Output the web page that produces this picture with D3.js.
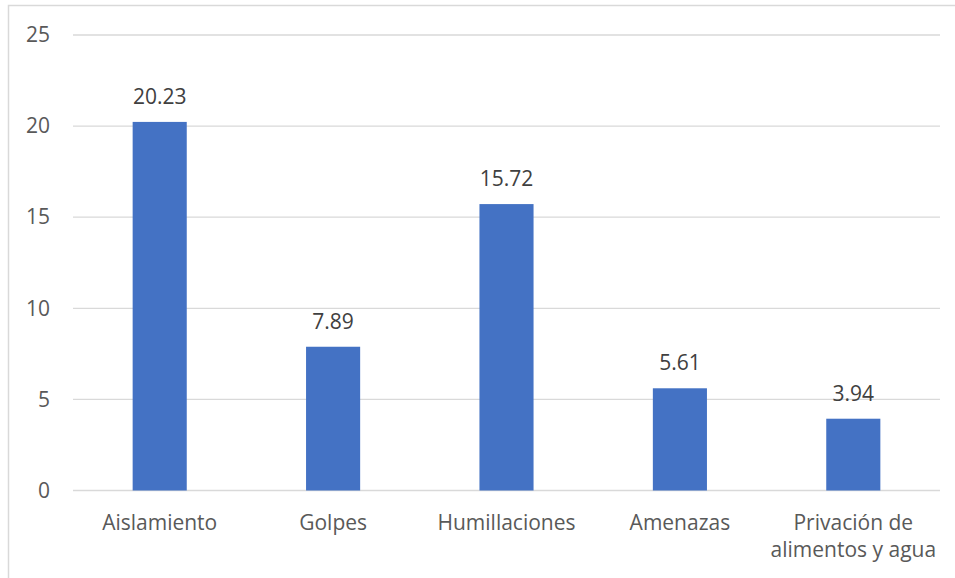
<!DOCTYPE html>
<html><head><meta charset="utf-8">
<script src="https://cdn.jsdelivr.net/npm/d3@7"></script>
<style>body{margin:0;background:#fff}svg{display:block}</style>
</head><body>
<script>
const categories = ["Aislamiento","Golpes","Humillaciones","Amenazas","Privación de|alimentos y agua"];
const values = [20.23, 7.89, 15.72, 5.61, 3.94];
const yTicks = [0,5,10,15,20,25];

const W=955,H=578;
const svg=d3.select("body").append("svg").attr("width",W).attr("height",H);
const font="'Open Sans', sans-serif";
// chart border
svg.append("path").attr("d","M8.5,"+H+" V5.5 H"+W).attr("fill","none").attr("stroke","#d9d9d9").attr("stroke-width",1.5);

const x=d3.scaleBand().domain(categories).range([73,940]).paddingInner(0.688).paddingOuter(0.344);
const y=d3.scaleLinear().domain([0,25]).range([490.5,35]);

const grid=svg.append("g");
grid.selectAll("line").data(yTicks).join("line")
 .attr("x1",73).attr("x2",940).attr("y1",d=>y(d)).attr("y2",d=>y(d))
 .attr("stroke","#d9d9d9").attr("stroke-width",1.3);

const yAxis=svg.append("g").attr("transform","translate(50,0)")
 .call(d3.axisLeft(y).tickValues(yTicks).tickSize(0).tickPadding(0).tickFormat(d3.format("d")));
yAxis.select(".domain").remove();
yAxis.selectAll("text").attr("font-family",font).attr("font-size",21).attr("fill","#595959");

svg.append("g").selectAll("rect").data(values).join("rect")
 .attr("x",(d,i)=>x(categories[i])).attr("width",x.bandwidth())
 .attr("y",d=>y(d)).attr("height",d=>y(0)-y(d)).attr("fill","#4472C4");

svg.append("g").selectAll("text").data(values).join("text")
 .attr("x",(d,i)=>x(categories[i])+x.bandwidth()/2).attr("y",d=>y(d)-18)
 .attr("text-anchor","middle").attr("font-family",font).attr("font-size",21).attr("fill","#404040")
 .text(d=>d.toFixed(2));

const xAxis=svg.append("g").attr("transform","translate(0,490.5)")
 .call(d3.axisBottom(x).tickSize(0).tickFormat(""));
xAxis.select(".domain").remove();
xAxis.selectAll(".tick").each(function(d){
  const t=d3.select(this).append("text").attr("font-family",font).attr("font-size",21)
   .attr("fill","#595959").attr("text-anchor","middle");
  d.split("|").forEach((s,i)=>t.append("tspan").attr("x",0).attr("y",39+i*27).text(s));
});
</script>
</body></html>
